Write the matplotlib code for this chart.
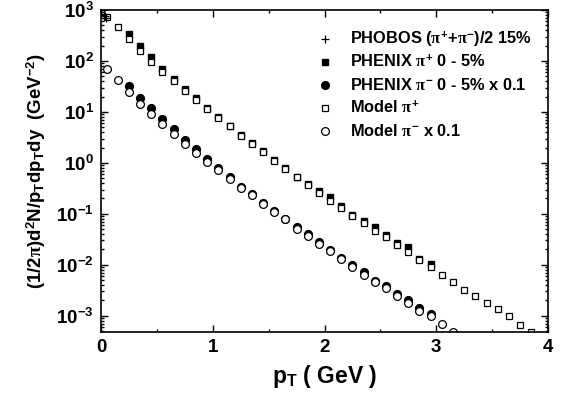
import numpy as np
import matplotlib
matplotlib.use("Agg")
import matplotlib.pyplot as plt
from matplotlib.ticker import FuncFormatter, FixedLocator, MultipleLocator, NullFormatter

plt.rcParams['font.family'] = ['Liberation Sans', 'DejaVu Sans']
plt.rcParams['font.weight'] = 'bold'
plt.rcParams['mathtext.fontset'] = 'custom'
plt.rcParams['mathtext.rm'] = 'Liberation Sans:bold'
plt.rcParams['mathtext.bf'] = 'Liberation Sans:bold'
plt.rcParams['mathtext.it'] = 'Liberation Serif'

# ---- data ----
phobos_pt = [0.025, 0.035, 0.045]
phobos_y = [820, 760, 700]

model_pip_pt = [0.05, 0.15, 0.25, 0.35, 0.45, 0.55, 0.65, 0.75, 0.85, 0.95,
                1.05, 1.15, 1.25, 1.35, 1.45, 1.55, 1.65, 1.75, 1.85, 1.95,
                2.05, 2.15, 2.25, 2.35, 2.45, 2.55, 2.65, 2.75, 2.85, 2.95,
                3.05, 3.15, 3.25, 3.35, 3.45, 3.55, 3.65, 3.75, 3.85]
model_pip_y = [720, 464, 270, 157, 95, 61, 40, 26, 17, 11.5,
               7.6, 5.2, 3.4, 2.3, 1.6, 1.1, 0.76, 0.52, 0.37, 0.257,
               0.18, 0.133, 0.091, 0.066, 0.047, 0.035, 0.0244, 0.0175, 0.0126, 0.0089,
               0.0062, 0.0046, 0.0032, 0.0024, 0.00179, 0.00133, 0.00097, 0.00066, 0.00049]

phenix_pip_pt = [0.25, 0.35, 0.45, 0.55, 0.65, 0.75, 0.85, 0.95, 1.05, 1.15,
                 1.25, 1.35, 1.45, 1.55, 1.65, 1.75, 1.85, 1.95, 2.05, 2.15,
                 2.25, 2.35, 2.45, 2.55, 2.65, 2.75, 2.85, 2.95]
phenix_pip_y = [338, 197, 120, 69, 45, 28, 18.5, 12, 8.0, 5.4,
                3.5, 2.5, 1.7, 1.15, 0.78, 0.54, 0.39, 0.28, 0.21, 0.14,
                0.094, 0.072, 0.054, 0.039, 0.027, 0.022, 0.013, 0.0105]

model_pim_pt = [0.05, 0.15, 0.25, 0.35, 0.45, 0.55, 0.65, 0.75, 0.85, 0.95,
                1.05, 1.15, 1.25, 1.35, 1.45, 1.55, 1.65, 1.75, 1.85, 1.95,
                2.05, 2.15, 2.25, 2.35, 2.45, 2.55, 2.65, 2.75, 2.85, 2.95,
                3.05, 3.15]
model_pim_y = [69, 42.5, 25, 14.6, 9.2, 5.7, 3.65, 2.36, 1.59, 1.06,
               0.71, 0.49, 0.32, 0.23, 0.158, 0.111, 0.078, 0.051, 0.0365, 0.0254,
               0.0188, 0.0129, 0.0090, 0.0064, 0.0047, 0.0035, 0.00248, 0.00178, 0.00122, 0.00097,
               0.00069, 0.00048]

phenix_pim_pt = [0.25, 0.35, 0.45, 0.55, 0.65, 0.75, 0.85, 0.95, 1.05, 1.15,
                 1.25, 1.35, 1.45, 1.55, 1.65, 1.75, 1.85, 1.95, 2.05, 2.15,
                 2.25, 2.35, 2.45, 2.55, 2.65, 2.75, 2.85, 2.95]
phenix_pim_y = [31.6, 19, 11.8, 7.3, 4.6, 2.8, 1.86, 1.18, 0.79, 0.52,
                0.34, 0.25, 0.165, 0.115, 0.080, 0.056, 0.040, 0.028, 0.0195, 0.0135,
                0.0099, 0.0071, 0.0049, 0.0038, 0.0027, 0.0020, 0.0014, 0.00108]

legend_labels = [
    r"PHOBOS ($\pi^{+}$+$\pi^{-}$)/2 15%",
    r"PHENIX $\pi^{+}$ 0 - 5%",
    r"PHENIX $\pi^{-}$ 0 - 5% x 0.1",
    r"Model $\pi^{+}$",
    r"Model $\pi^{-}$ x 0.1",
]

y_decades = [-3, -2, -1, 0, 1, 2, 3]
x_ticks = [0, 1, 2, 3, 4]

# ---- figure ----
fig = plt.figure(figsize=(5.69, 4.0), dpi=100)
ax = fig.add_axes([101/569, 1-332/400, 447/569, 322/400])

ms = 5.0
ax.plot(phenix_pip_pt, phenix_pip_y, 's', ms=ms, color='black', mec='black')
ax.plot(phenix_pim_pt, phenix_pim_y, 'o', ms=ms+0.6, color='black', mec='black')
ax.plot(model_pip_pt, model_pip_y, 's', ms=ms, mfc='white', mec='black', mew=0.9)
ax.plot(model_pim_pt, model_pim_y, 'o', ms=ms+0.6, mfc='white', mec='black', mew=0.9)
ax.plot(phobos_pt, phobos_y, '+', ms=6, color='black', mew=0.9)

ax.set_yscale('log')
ax.set_xlim(0, 4)
ax.set_ylim(4.8e-4, 1e3)

ax.xaxis.set_major_locator(FixedLocator(x_ticks))
ax.xaxis.set_minor_locator(MultipleLocator(0.5))
ax.yaxis.set_major_locator(FixedLocator([10.0**d for d in y_decades]))
minor_y = [m * 10.0**d for d in [-4] + y_decades[:-1] for m in range(2, 10)]
minor_y = [v for v in minor_y if 4.8e-4 <= v <= 1e3]
ax.yaxis.set_minor_locator(FixedLocator(minor_y))
ax.yaxis.set_minor_formatter(NullFormatter())
ax.yaxis.set_major_formatter(FuncFormatter(lambda v, p: r"$\mathbf{10^{%d}}$" % int(round(np.log10(v)))))
ax.xaxis.set_major_formatter(FuncFormatter(lambda v, p: "%d" % int(round(v))))

ax.tick_params(which='both', direction='in', top=True, right=True, width=1.0)
ax.tick_params(which='major', length=5, labelsize=13.5, pad=5)
ax.tick_params(which='minor', length=2.5)
for lab in ax.get_xticklabels() + ax.get_yticklabels():
    lab.set_fontweight('bold')
for s in ax.spines.values():
    s.set_linewidth(1.2)

ax.set_xlabel(r"p$_{\mathbf{T}}$ ( GeV )", fontsize=16.5, fontweight='bold', labelpad=5)
ax.set_ylabel(r"(1/2$\pi$)d$^{2}$N/p$_{\mathbf{T}}$dp$_{\mathbf{T}}$dy  (GeV$^{-2}$)",
              fontsize=13.4, fontweight='bold', labelpad=6)

# ---- legend (manual) ----
styles = [dict(marker='+', ms=6, color='black', mew=0.9, ls='none'),
          dict(marker='s', ms=ms, color='black', ls='none'),
          dict(marker='o', ms=ms+0.6, color='black', ls='none'),
          dict(marker='s', ms=ms, mfc='white', mec='black', mew=0.9, ls='none'),
          dict(marker='o', ms=ms+0.6, mfc='white', mec='black', mew=0.9, ls='none')]
rows_px = [39, 62, 85, 108, 131]
for st, lab, ypx in zip(styles, legend_labels, rows_px):
    ya = (332 - ypx) / 322
    ax.plot([0.501], [ya], transform=ax.transAxes, clip_on=False, **st)
    ax.text(0.557, ya, lab, transform=ax.transAxes, fontsize=11.8, fontweight='bold',
            va='center', ha='left')

fig.savefig("out.png", dpi=100)
